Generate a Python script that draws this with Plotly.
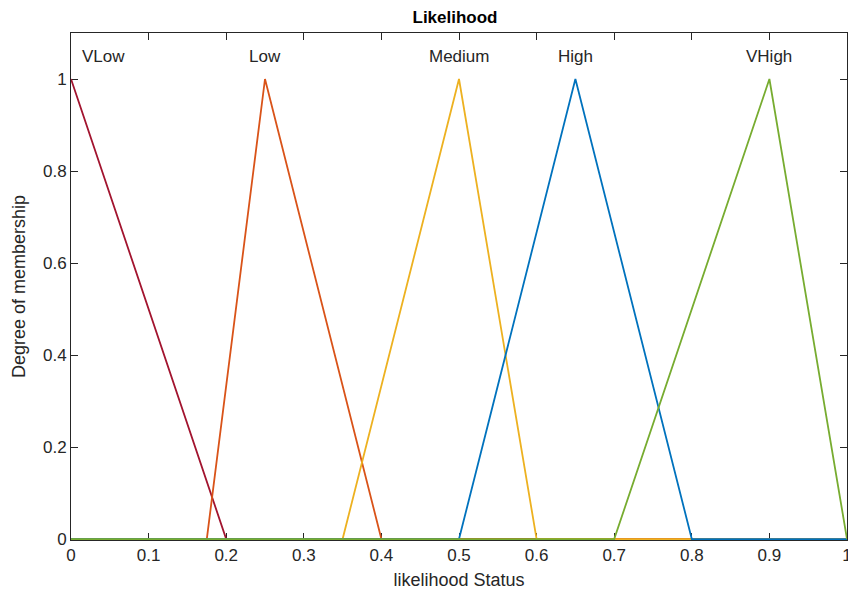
import plotly.graph_objects as go

names = ["VLow", "Low", "Medium", "High", "VHigh"]
colors = ["#A2142F", "#D95319", "#EDB120", "#0072BD", "#77AC30"]
xs = [
    [0.0, 0.2, 1.0],
    [0.0, 0.175, 0.25, 0.4, 1.0],
    [0.0, 0.35, 0.5, 0.6, 1.0],
    [0.0, 0.5, 0.65, 0.8, 1.0],
    [0.0, 0.7, 0.9, 1.0],
]
ys = [
    [1.0, 0.0, 0.0],
    [0.0, 0.0, 1.0, 0.0, 0.0],
    [0.0, 0.0, 1.0, 0.0, 0.0],
    [0.0, 0.0, 1.0, 0.0, 0.0],
    [0.0, 0.0, 1.0, 0.0],
]
label_x = [0.011, 0.25, 0.5, 0.65, 0.9]
label_anchor = ["left", "center", "center", "center", "center"]
label_y = 1.05
x_ticks = [0, 0.1, 0.2, 0.3, 0.4, 0.5, 0.6, 0.7, 0.8, 0.9, 1]
y_ticks = [0, 0.2, 0.4, 0.6, 0.8, 1]

fig = go.Figure()
for n, c, x, y in zip(names, colors, xs, ys):
    fig.add_trace(go.Scatter(x=x, y=y, mode="lines", name=n,
                             line=dict(color=c, width=1.8), showlegend=False))

for n, lx, la in zip(names, label_x, label_anchor):
    fig.add_annotation(x=lx, y=label_y, text=n, showarrow=False,
                       xanchor=la, yanchor="middle",
                       font=dict(size=17, color="#262626"))

axis_common = dict(showline=True, linecolor="#262626", linewidth=1, mirror="ticks",
                   ticks="inside", ticklen=7, tickcolor="#262626", tickwidth=1,
                   showgrid=False, zeroline=False, ticklabeloverflow="allow",
                   automargin=False, layer="below traces",
                   tickfont=dict(size=17, color="#262626"))

fig.update_xaxes(range=[0, 1], tickvals=x_ticks, ticktext=[f"{v:g}" for v in x_ticks],
                 title=dict(text="likelihood Status", font=dict(size=18, color="#262626"), standoff=8),
                 **axis_common)
fig.update_yaxes(range=[-0.002, 1.1], tickvals=y_ticks, ticktext=[f"{v:g}" for v in y_ticks],
                 title=dict(text="Degree of membership", font=dict(size=18, color="#262626"), standoff=12),
                 **axis_common)

fig.update_layout(
    width=848, height=599,
    margin=dict(l=71, r=1, t=33, b=59),
    paper_bgcolor="white", plot_bgcolor="white",
    font=dict(family="Liberation Sans, Arial, sans-serif", color="#262626"),
    title=dict(text="<b>Likelihood</b>", x=0.5 + 31/848, xanchor="center", y=1 - 17/599, yanchor="middle",
               font=dict(size=17, color="black")),
)

fig.write_html("out.html")
